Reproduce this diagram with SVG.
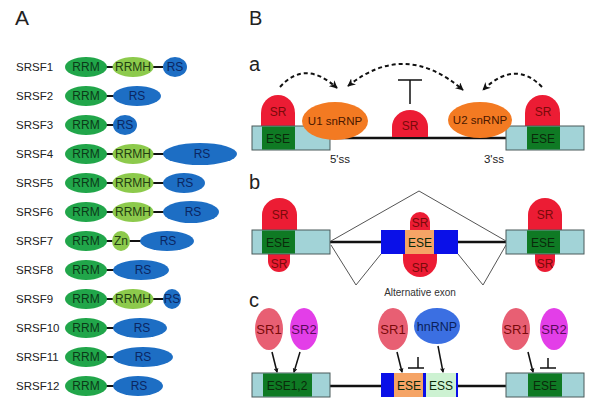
<svg xmlns="http://www.w3.org/2000/svg" width="600" height="410" viewBox="0 0 600 410">
<defs>
<marker id="ah" viewBox="0 0 10 10" refX="8" refY="5" markerWidth="5" markerHeight="5" orient="auto-start-reverse" markerUnits="userSpaceOnUse">
<path d="M0,0 L10,5 L0,10 L3,5 Z" fill="#111" stroke="none"/>
</marker>
<marker id="ah2" viewBox="0 0 10 10" refX="9" refY="5" markerWidth="8" markerHeight="8" orient="auto-start-reverse" markerUnits="userSpaceOnUse">
<path d="M0,0 L10,5 L0,10 L3,5 Z" fill="#111" stroke="none"/>
</marker>
<style>
text{font-family:"Liberation Sans",Arial,sans-serif;}
.lbl{font-size:11.5px;fill:#222;}
.big{font-size:21px;fill:#222;}
.sub{font-size:20px;fill:#222;}
.rrm{fill:#21a64a;}
.rrmh{fill:#8dca4c;}
.rs{fill:#1d6ec4;}
.dt{font-size:12px;text-anchor:middle;}
.tg{fill:#0b3a18;}
.tl{fill:#223f12;}
.tb{fill:#0b2662;}
.lnk{stroke:#111;stroke-width:2;}
.exon{fill:#a2d3d7;stroke:#4a5a5a;stroke-width:1;}
.ese{fill:#0f7a24;}
.sr{fill:#ec1c34;}
.snrnp{fill:#f37a22;}
.alt{fill:#0a10e8;}
.ese2{fill:#f5a466;}
.ess{fill:#cdf2d2;}
.sr1{fill:#e85f73;}
.sr2{fill:#e33ee8;}
.hn{fill:#3b6fe2;}
.t{font-size:12px;text-anchor:middle;}
.tr{fill:#7a0a0a;}
.te{fill:#0a2a0a;}
.to{fill:#4a1800;}
.intron{stroke:#111;stroke-width:2.5;fill:none;}
.thin{stroke:#555;stroke-width:1;fill:none;}
.dash{stroke:#111;stroke-width:2;stroke-dasharray:4 3;fill:none;}
.arr{stroke:#111;stroke-width:1.5;fill:none;}
.inh{stroke:#111;stroke-width:1.5;fill:none;}
</style>
</defs>
<rect width="600" height="410" fill="#fff"/>

<text class="big" x="15" y="25">A</text>
<text class="sub" x="249" y="25">B</text>

<!-- Panel A -->
<g id="panelA-links">
<line class="lnk" x1="106" y1="67" x2="113" y2="67"/><line class="lnk" x1="152" y1="67" x2="163" y2="67"/>
<line class="lnk" x1="106" y1="96" x2="114" y2="96"/>
<line class="lnk" x1="106" y1="125" x2="114" y2="125"/>
<line class="lnk" x1="106" y1="154" x2="113" y2="154"/><line class="lnk" x1="152" y1="154" x2="164" y2="154"/>
<line class="lnk" x1="106" y1="183" x2="113" y2="183"/><line class="lnk" x1="152" y1="183" x2="164" y2="183"/>
<line class="lnk" x1="106" y1="212" x2="113" y2="212"/><line class="lnk" x1="152" y1="212" x2="164" y2="212"/>
<line class="lnk" x1="106" y1="241" x2="113" y2="241"/><line class="lnk" x1="129" y1="241" x2="141" y2="241"/>
<line class="lnk" x1="106" y1="270" x2="114" y2="270"/>
<line class="lnk" x1="106" y1="299" x2="113" y2="299"/><line class="lnk" x1="152" y1="299" x2="164" y2="299"/>
<line class="lnk" x1="106" y1="328" x2="114" y2="328"/>
<line class="lnk" x1="106" y1="357" x2="114" y2="357"/>
<line class="lnk" x1="106" y1="386" x2="114" y2="386"/>
</g>

<g id="SRSF1">
<text class="lbl" x="16" y="71">SRSF1</text>
<ellipse class="rrm" cx="86" cy="67" rx="21" ry="10"/><text class="dt tg" x="86" y="71">RRM</text>
<ellipse class="rrmh" cx="133" cy="67" rx="20.5" ry="10"/><text class="dt tl" x="133" y="71">RRMH</text>
<ellipse class="rs" cx="175" cy="67" rx="12" ry="10"/><text class="dt tb" x="175" y="71">RS</text>
</g>
<g id="SRSF2">
<text class="lbl" x="16" y="100">SRSF2</text>
<ellipse class="rrm" cx="86" cy="96" rx="21" ry="10"/><text class="dt tg" x="86" y="100">RRM</text>
<ellipse class="rs" cx="137" cy="96" rx="24" ry="10"/><text class="dt tb" x="137" y="100">RS</text>
</g>
<g id="SRSF3">
<text class="lbl" x="16" y="129">SRSF3</text>
<ellipse class="rrm" cx="86" cy="125" rx="21" ry="10"/><text class="dt tg" x="86" y="129">RRM</text>
<ellipse class="rs" cx="125" cy="125" rx="12" ry="10"/><text class="dt tb" x="125" y="129">RS</text>
</g>
<g id="SRSF4">
<text class="lbl" x="16" y="158">SRSF4</text>
<ellipse class="rrm" cx="86" cy="154" rx="21" ry="10"/><text class="dt tg" x="86" y="158">RRM</text>
<ellipse class="rrmh" cx="133" cy="154" rx="20.5" ry="10"/><text class="dt tl" x="133" y="158">RRMH</text>
<ellipse class="rs" cx="200" cy="154" rx="37" ry="11"/><text class="dt tb" x="202" y="158">RS</text>
</g>
<g id="SRSF5">
<text class="lbl" x="16" y="187">SRSF5</text>
<ellipse class="rrm" cx="86" cy="183" rx="21" ry="10"/><text class="dt tg" x="86" y="187">RRM</text>
<ellipse class="rrmh" cx="133" cy="183" rx="20.5" ry="10"/><text class="dt tl" x="133" y="187">RRMH</text>
<ellipse class="rs" cx="184" cy="183" rx="21" ry="10"/><text class="dt tb" x="185" y="187">RS</text>
</g>
<g id="SRSF6">
<text class="lbl" x="16" y="216">SRSF6</text>
<ellipse class="rrm" cx="86" cy="212" rx="21" ry="10"/><text class="dt tg" x="86" y="216">RRM</text>
<ellipse class="rrmh" cx="133" cy="212" rx="20.5" ry="10"/><text class="dt tl" x="133" y="216">RRMH</text>
<ellipse class="rs" cx="191" cy="212" rx="28" ry="11"/><text class="dt tb" x="193" y="216">RS</text>
</g>
<g id="SRSF7">
<text class="lbl" x="16" y="245">SRSF7</text>
<ellipse class="rrm" cx="86" cy="241" rx="21" ry="10"/><text class="dt tg" x="86" y="245">RRM</text>
<ellipse class="rrmh" cx="121" cy="241" rx="9" ry="10"/><text class="dt tl" x="121" y="245">Zn</text>
<ellipse class="rs" cx="167" cy="241" rx="27" ry="10"/><text class="dt tb" x="168" y="245">RS</text>
</g>
<g id="SRSF8">
<text class="lbl" x="16" y="274">SRSF8</text>
<ellipse class="rrm" cx="86" cy="270" rx="21" ry="10"/><text class="dt tg" x="86" y="274">RRM</text>
<ellipse class="rs" cx="141" cy="270" rx="28" ry="10"/><text class="dt tb" x="143" y="274">RS</text>
</g>
<g id="SRSF9">
<text class="lbl" x="16" y="303">SRSF9</text>
<ellipse class="rrm" cx="86" cy="299" rx="21" ry="10"/><text class="dt tg" x="86" y="303">RRM</text>
<ellipse class="rrmh" cx="133" cy="299" rx="20.5" ry="10"/><text class="dt tl" x="133" y="303">RRMH</text>
<ellipse class="rs" cx="172" cy="299" rx="9" ry="10"/><text class="dt tb" x="172" y="303">RS</text>
</g>
<g id="SRSF10">
<text class="lbl" x="16" y="332">SRSF10</text>
<ellipse class="rrm" cx="86" cy="328" rx="21" ry="10"/><text class="dt tg" x="86" y="332">RRM</text>
<ellipse class="rs" cx="140" cy="328" rx="27" ry="10"/><text class="dt tb" x="142" y="332">RS</text>
</g>
<g id="SRSF11">
<text class="lbl" x="16" y="361">SRSF11</text>
<ellipse class="rrm" cx="86" cy="357" rx="21" ry="10"/><text class="dt tg" x="86" y="361">RRM</text>
<ellipse class="rs" cx="143" cy="357" rx="30" ry="10"/><text class="dt tb" x="143" y="361">RS</text>
</g>
<g id="SRSF12">
<text class="lbl" x="16" y="390">SRSF12</text>
<ellipse class="rrm" cx="86" cy="386" rx="21" ry="10"/><text class="dt tg" x="86" y="390">RRM</text>
<ellipse class="rs" cx="138" cy="386" rx="25" ry="10"/><text class="dt tb" x="139" y="390">RS</text>
</g>

<!-- Panel B a -->
<text class="sub" x="249" y="71">a</text>
<g id="connectors">
<line class="intron" x1="330" y1="138" x2="506" y2="138"/>
<path class="dash" d="M280,87 Q305,59 337,88" marker-end="url(#ah2)"/>
<path class="dash" d="M348,86 Q405,40 463,90" marker-start="url(#ah2)" marker-end="url(#ah2)"/>
<path class="dash" d="M542,87 Q515,59 483,90" marker-end="url(#ah2)"/>
<path class="inh" d="M410,104 V80 M398,80 H422"/>
<line class="intron" x1="330" y1="242" x2="381" y2="242"/>
<line class="intron" x1="458" y1="242" x2="506" y2="242"/>
<path class="thin" d="M331,241 L419,191 L506,241"/>
<path class="thin" d="M331,245 L356,285 L381,254"/>
<path class="thin" d="M458,254 L483,285 L506,245"/>
<line class="intron" x1="330" y1="386" x2="381" y2="386"/>
<line class="intron" x1="458" y1="386" x2="506" y2="386"/>
<line class="arr" x1="272" y1="352" x2="277" y2="372" marker-end="url(#ah)"/>
<line class="arr" x1="300" y1="352" x2="294" y2="372" marker-end="url(#ah)"/>
<line class="arr" x1="397" y1="352" x2="402" y2="372" marker-end="url(#ah)"/>
<line class="arr" x1="438" y1="346" x2="443" y2="372" marker-end="url(#ah)"/>
<line class="arr" x1="528" y1="352" x2="533" y2="372" marker-end="url(#ah)"/>
<path class="inh" d="M418,357 V368 M408,368 H424"/>
<path class="inh" d="M548,358 V368 M540,368 H556"/>
</g>

<g id="a-exon-left">
<path class="sr" d="M261,126 V113 A17,18 0 0 1 295,113 V126 Z"/>
<text class="t tr" x="278" y="116">SR</text>
<rect class="exon" x="252" y="126" width="78" height="24"/>
<rect class="ese" x="262" y="126.5" width="33" height="23"/>
<text class="t te" x="278" y="143">ESE</text>
</g>
<g id="a-U1">
<ellipse class="snrnp" cx="335" cy="121" rx="33" ry="19"/>
<text class="t to" x="335" y="125" style="font-size:11.5px">U1 snRNP</text>
</g>
<g id="a-SR-center">
<path class="sr" d="M392,137 V127 A18,17 0 0 1 428,127 V137 Z"/>
<text class="t tr" x="410" y="130">SR</text>
</g>
<g id="a-exon-right">
<path class="sr" d="M525,126 V113 A17.5,18 0 0 1 560,113 V126 Z"/>
<text class="t tr" x="543" y="116">SR</text>
<rect class="exon" x="506" y="126" width="78" height="24"/>
<rect class="ese" x="527" y="126.5" width="33" height="23"/>
<text class="t te" x="543" y="143">ESE</text>
</g>
<g id="a-U2">
<ellipse class="snrnp" cx="480" cy="120" rx="32" ry="18"/>
<text class="t to" x="480" y="124" style="font-size:11.5px">U2 snRNP</text>
</g>
<text class="lbl" x="340" y="163" text-anchor="middle">5'ss</text>
<text class="lbl" x="494" y="163" text-anchor="middle">3'ss</text>

<!-- Panel B b -->
<text class="sub" x="249" y="189">b</text>
<g id="b-exon-left">
<path class="sr" d="M262,230 V215 A17.5,17 0 0 1 297,215 V230 Z"/>
<path class="sr" d="M268,254 V261 A11,11 0 0 0 290,261 V254 Z"/>
<rect class="exon" x="252" y="230" width="78" height="24"/>
<rect class="ese" x="262" y="230.5" width="33" height="23"/>
<text class="t tr" x="280" y="219">SR</text>
<text class="t tr" x="279" y="268">SR</text>
<text class="t te" x="278" y="247">ESE</text>
</g>
<g id="b-alt-exon">
<path class="sr" d="M410,230 V222 A10,10 0 0 1 430,222 V230 Z"/>
<path class="sr" d="M403,254 V260 A17,17 0 0 0 437,260 V254 Z"/>
<rect class="alt" x="381" y="230" width="77" height="24"/>
<rect class="ese2" x="405" y="230" width="29" height="24"/>
<text class="t tr" x="420" y="227">SR</text>
<text class="t te" x="420" y="247">ESE</text>
<text class="t tr" x="420" y="272">SR</text>
<text x="420" y="296" text-anchor="middle" style="font-size:10px;fill:#333">Alternative exon</text>
</g>
<g id="b-exon-right">
<path class="sr" d="M528,230 V215 A17,17 0 0 1 562,215 V230 Z"/>
<path class="sr" d="M535,254 V261 A10,11 0 0 0 555,261 V254 Z"/>
<rect class="exon" x="506" y="230" width="78" height="24"/>
<rect class="ese" x="527" y="230.5" width="33" height="23"/>
<text class="t tr" x="545" y="219">SR</text>
<text class="t tr" x="545" y="268">SR</text>
<text class="t te" x="543" y="247">ESE</text>
</g>

<!-- Panel B c -->
<text class="sub" x="249" y="307">c</text>
<g id="c-exon-left">
<rect class="exon" x="252" y="373" width="78" height="24"/>
<rect class="ese" x="263" y="373.5" width="49" height="23"/>
<text class="t te" x="287" y="390">ESE1,2</text>
</g>
<g id="c-SR1-left"><ellipse class="sr1" cx="269" cy="329" rx="14" ry="21"/><text class="t tr" x="269" y="334" style="font-size:13px">SR1</text></g>
<g id="c-SR2-left"><ellipse class="sr2" cx="304" cy="329" rx="14" ry="21"/><text class="t" x="304" y="334" style="font-size:13px;fill:#5a0a5a">SR2</text></g>
<g id="c-alt-exon">
<rect class="alt" x="381" y="373" width="77" height="24"/>
<rect class="ese2" x="394" y="373" width="29" height="24"/>
<rect class="ess" x="426" y="373" width="30" height="24"/>
<text class="t te" x="409" y="390">ESE</text>
<text class="t te" x="441" y="390">ESS</text>
</g>
<g id="c-SR1-mid"><ellipse class="sr1" cx="393" cy="329" rx="15" ry="21"/><text class="t tr" x="393" y="334" style="font-size:13px">SR1</text></g>
<g id="c-hnRNP"><ellipse class="hn" cx="437" cy="326" rx="23" ry="18"/><text class="t" x="437" y="331" style="font-size:12.5px;fill:#0a1f5a">hnRNP</text></g>
<g id="c-exon-right">
<rect class="exon" x="506" y="373" width="78" height="24"/>
<rect class="ese" x="528" y="373.5" width="34" height="23"/>
<text class="t te" x="545" y="390">ESE</text>
</g>
<g id="c-SR1-right"><ellipse class="sr1" cx="516" cy="329" rx="14" ry="21"/><text class="t tr" x="516" y="334" style="font-size:13px">SR1</text></g>
<g id="c-SR2-right"><ellipse class="sr2" cx="554" cy="329" rx="14" ry="21"/><text class="t" x="554" y="334" style="font-size:13px;fill:#5a0a5a">SR2</text></g>
</svg>
